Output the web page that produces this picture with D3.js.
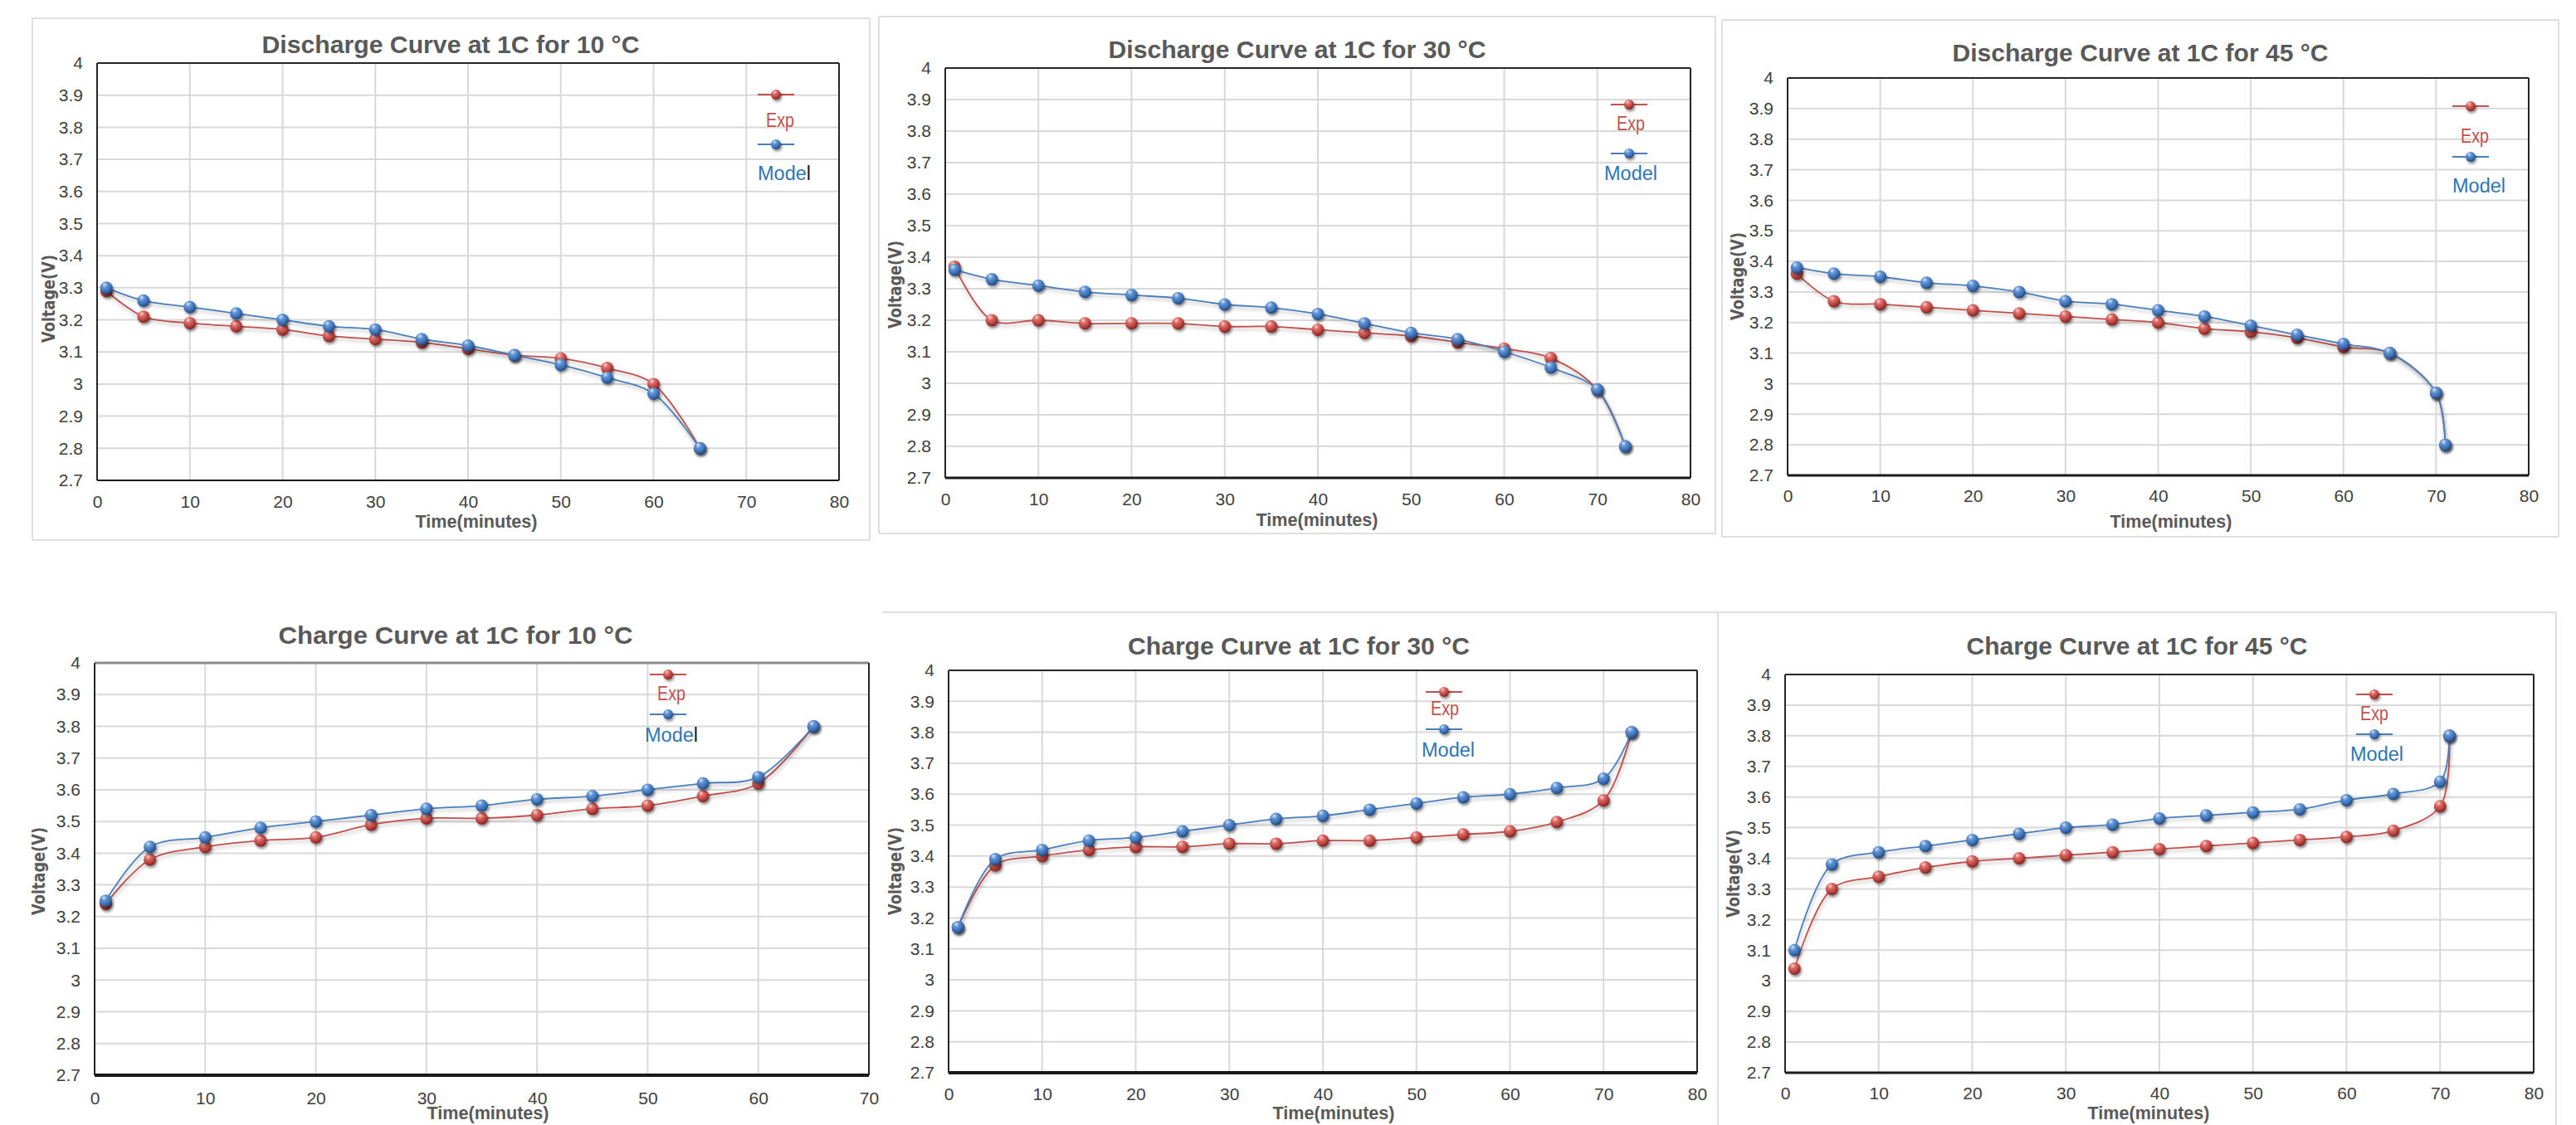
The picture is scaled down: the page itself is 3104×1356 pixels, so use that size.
<!DOCTYPE html>
<html>
<head>
<meta charset="utf-8">
<script src="https://cdn.jsdelivr.net/npm/d3@7"></script>
<style>
  body { margin: 0; background: #fff; }
  svg { display: block; }
</style>
</head>
<body>
<svg id="chart" width="3104" height="1356"></svg>
<script>
// ---- data ----
const Y_TICKS = [2.7, 2.8, 2.9, 3, 3.1, 3.2, 3.3, 3.4, 3.5, 3.6, 3.7, 3.8, 3.9, 4];
const X_TICKS_80 = [0, 10, 20, 30, 40, 50, 60, 70, 80];
const X_TICKS_70 = [0, 10, 20, 30, 40, 50, 60, 70];

const titles = [
  "Discharge Curve at 1C for 10 °C",
  "Discharge Curve at 1C for 30 °C",
  "Discharge Curve at 1C for 45 °C",
  "Charge Curve at 1C for 10 °C",
  "Charge Curve at 1C for 30 °C",
  "Charge Curve at 1C for 45 °C"
];

const tDis10 = [1, 5, 10, 15, 20, 25, 30, 35, 40, 45, 50, 55, 60, 65];
const expDis10 = [3.29, 3.21, 3.19, 3.18, 3.17, 3.15, 3.14, 3.13, 3.11, 3.09, 3.08, 3.05, 3.00, 2.80];
const modelDis10 = [3.30, 3.26, 3.24, 3.22, 3.20, 3.18, 3.17, 3.14, 3.12, 3.09, 3.06, 3.02, 2.97, 2.80];

const tDis30 = [1, 5, 10, 15, 20, 25, 30, 35, 40, 45, 50, 55, 60, 65, 70, 73];
const expDis30 = [3.37, 3.20, 3.20, 3.19, 3.19, 3.19, 3.18, 3.18, 3.17, 3.16, 3.15, 3.13, 3.11, 3.08, 2.98, 2.80];
const modelDis30 = [3.36, 3.33, 3.31, 3.29, 3.28, 3.27, 3.25, 3.24, 3.22, 3.19, 3.16, 3.14, 3.10, 3.05, 2.98, 2.80];

const tDis45 = [1, 5, 10, 15, 20, 25, 30, 35, 40, 45, 50, 55, 60, 65, 70, 71];
const expDis45 = [3.36, 3.27, 3.26, 3.25, 3.24, 3.23, 3.22, 3.21, 3.20, 3.18, 3.17, 3.15, 3.12, 3.10, 2.97, 2.80];
const modelDis45 = [3.38, 3.36, 3.35, 3.33, 3.32, 3.30, 3.27, 3.26, 3.24, 3.22, 3.19, 3.16, 3.13, 3.10, 2.97, 2.80];

const tCh10 = [1, 5, 10, 15, 20, 25, 30, 35, 40, 45, 50, 55, 60, 65];
const expCh10 = [3.24, 3.38, 3.42, 3.44, 3.45, 3.49, 3.51, 3.51, 3.52, 3.54, 3.55, 3.58, 3.62, 3.80];
const modelCh10 = [3.25, 3.42, 3.45, 3.48, 3.50, 3.52, 3.54, 3.55, 3.57, 3.58, 3.60, 3.62, 3.64, 3.80];

const tCh30 = [1, 5, 10, 15, 20, 25, 30, 35, 40, 45, 50, 55, 60, 65, 70, 73];
const expCh30 = [3.17, 3.37, 3.40, 3.42, 3.43, 3.43, 3.44, 3.44, 3.45, 3.45, 3.46, 3.47, 3.48, 3.51, 3.58, 3.80];
const modelCh30 = [3.17, 3.39, 3.42, 3.45, 3.46, 3.48, 3.50, 3.52, 3.53, 3.55, 3.57, 3.59, 3.60, 3.62, 3.65, 3.80];

const tCh45 = [1, 5, 10, 15, 20, 25, 30, 35, 40, 45, 50, 55, 60, 65, 70, 71];
const expCh45 = [3.04, 3.30, 3.34, 3.37, 3.39, 3.40, 3.41, 3.42, 3.43, 3.44, 3.45, 3.46, 3.47, 3.49, 3.57, 3.80];
const modelCh45 = [3.10, 3.38, 3.42, 3.44, 3.46, 3.48, 3.50, 3.51, 3.53, 3.54, 3.55, 3.56, 3.59, 3.61, 3.65, 3.80];

// ---- layout of the six panels (pixel positions) ----
const panels = [
  { t: tDis10, exp: expDis10, model: modelDis10, xTicks: X_TICKS_80,
    box: { l: 39, t: 22, r: 1048, b: 651, sides: "ltrb" }, plot: { l: 117, t: 76, r: 1011, b: 579 },
    title: { x: 543, y: 64, w: 455 }, xLab: 605, xTitle: { x: 574, y: 628 }, yTitle: { x: 58, y: 360 },
    leg: { x: 935, y1: 114, y2: 174, ex: 940, ey: 145, mx: 945, my: 209, cursorL: true },
    frame: { top: 2, topC: "#262626", bottom: 2 } },
  { t: tDis30, exp: expDis30, model: modelDis30, xTicks: X_TICKS_80,
    box: { l: 1059, t: 20, r: 2067, b: 643, sides: "ltrb" }, plot: { l: 1139, t: 82, r: 2037, b: 576 },
    title: { x: 1563, y: 70, w: 455 }, xLab: 602, xTitle: { x: 1587, y: 626 }, yTitle: { x: 1078, y: 343 },
    leg: { x: 1963, y1: 126, y2: 185, ex: 1965, ey: 149, mx: 1965, my: 209 },
    frame: { top: 2, topC: "#262626", bottom: 3 } },
  { t: tDis45, exp: expDis45, model: modelDis45, xTicks: X_TICKS_80,
    box: { l: 2075, t: 24, r: 3083, b: 647, sides: "ltrb" }, plot: { l: 2154, t: 94, r: 3047, b: 573 },
    title: { x: 2579, y: 74, w: 453 }, xLab: 598, xTitle: { x: 2616, y: 628 }, yTitle: { x: 2093, y: 333 },
    leg: { x: 2977, y1: 128, y2: 189, ex: 2982, ey: 164, mx: 2987, my: 224 },
    frame: { top: 2, topC: "#262626", bottom: 3 } },
  { t: tCh10, exp: expCh10, model: modelCh10, xTicks: X_TICKS_70,
    box: null, plot: { l: 114, t: 799, r: 1047, b: 1296 },
    title: { x: 549, y: 776, w: 427 }, xLab: 1324, xTitle: { x: 588, y: 1341 }, yTitle: { x: 46, y: 1050 },
    leg: { x: 805, y1: 813, y2: 861, ex: 809, ey: 836, mx: 809, my: 886, cursorL: true },
    frame: { top: 3, topC: "#8c8c8c", bottom: 4 } },
  { t: tCh30, exp: expCh30, model: modelCh30, xTicks: X_TICKS_80,
    box: { l: 1063, t: 738, r: 2070, b: 1360, sides: "tr" }, plot: { l: 1143, t: 808, r: 2045, b: 1293 },
    title: { x: 1565, y: 789, w: 412 }, xLab: 1319, xTitle: { x: 1607, y: 1341 }, yTitle: { x: 1078, y: 1050 },
    leg: { x: 1740, y1: 834, y2: 879, ex: 1741, ey: 854, mx: 1745, my: 904 },
    frame: { top: 2, topC: "#262626", bottom: 4 } },
  { t: tCh45, exp: expCh45, model: modelCh45, xTicks: X_TICKS_80,
    box: { l: 2070, t: 738, r: 3080, b: 1360, sides: "ltr" }, plot: { l: 2151, t: 813, r: 3053, b: 1293 },
    title: { x: 2575, y: 789, w: 411 }, xLab: 1318, xTitle: { x: 2589, y: 1341 }, yTitle: { x: 2088, y: 1053 },
    leg: { x: 2861, y1: 837, y2: 885, ex: 2861, ey: 860, mx: 2864, my: 909 },
    frame: { top: 2, topC: "#262626", bottom: 3 } }
];

const RED = "#c0504d";
const BLUE = "#4a7ebb";
const FONT = "'Liberation Sans Narrow', 'Liberation Sans', Arial, sans-serif";

const svg = d3.select("#chart");
const defs = svg.append("defs");

// glossy ball markers
function ballGradient(id, stops) {
  const g = defs.append("radialGradient").attr("id", id)
    .attr("cx", "38%").attr("cy", "30%").attr("r", "72%").attr("fx", "35%").attr("fy", "25%");
  stops.forEach(([o, c]) => g.append("stop").attr("offset", o).attr("stop-color", c));
}
ballGradient("ballRed", [["0%", "#fbd6d4"], ["30%", "#de6e69"], ["70%", "#b8403c"], ["100%", "#7a2220"]]);
ballGradient("ballBlue", [["0%", "#d6e6f8"], ["30%", "#6296d6"], ["70%", "#3b6fb3"], ["100%", "#1f4479"]]);

defs.append("filter").attr("id", "ballShadow").attr("x", "-50%").attr("y", "-50%").attr("width", "200%").attr("height", "200%")
  .append("feDropShadow").attr("dx", 1.5).attr("dy", 2.5).attr("stdDeviation", 1.8)
  .attr("flood-color", "#000").attr("flood-opacity", 0.45);
defs.append("filter").attr("id", "lineShadow").attr("x", "-10%").attr("y", "-10%").attr("width", "120%").attr("height", "130%")
  .append("feDropShadow").attr("dx", 1).attr("dy", 3).attr("stdDeviation", 2)
  .attr("flood-color", "#000").attr("flood-opacity", 0.28);

const fmt = (d) => String(+d.toFixed(1));

panels.forEach((p, i) => {
  const g = svg.append("g").attr("class", "panel");
  const x = d3.scaleLinear().domain([0, d3.max(p.xTicks)]).range([p.plot.l, p.plot.r]);
  const y = d3.scaleLinear().domain([2.7, 4]).range([p.plot.b, p.plot.t]);

  // outer chart box
  if (p.box) {
    const b = p.box;
    const segs = [];
    if (b.sides.includes("l")) segs.push([b.l, b.t, b.l, b.b]);
    if (b.sides.includes("t")) segs.push([b.l, b.t, b.r, b.t]);
    if (b.sides.includes("r")) segs.push([b.r, b.t, b.r, b.b]);
    if (b.sides.includes("b")) segs.push([b.l, b.b, b.r, b.b]);
    g.selectAll(".box").data(segs).join("line")
      .attr("x1", (d) => d[0]).attr("y1", (d) => d[1]).attr("x2", (d) => d[2]).attr("y2", (d) => d[3])
      .attr("stroke", "#dedede").attr("stroke-width", 2);
  }

  // gridlines
  g.selectAll(".hgrid").data(Y_TICKS.slice(1, -1)).join("line")
    .attr("x1", p.plot.l).attr("x2", p.plot.r)
    .attr("y1", (d) => y(d)).attr("y2", (d) => y(d))
    .attr("stroke", "#d9d9d9").attr("stroke-width", 2);
  g.selectAll(".vgrid").data(p.xTicks.slice(1, -1)).join("line")
    .attr("y1", p.plot.t).attr("y2", p.plot.b)
    .attr("x1", (d) => x(d)).attr("x2", (d) => x(d))
    .attr("stroke", "#d9d9d9").attr("stroke-width", 2);

  // plot frame
  g.append("line").attr("x1", p.plot.l).attr("x2", p.plot.r).attr("y1", p.plot.t).attr("y2", p.plot.t)
    .attr("stroke", p.frame.topC).attr("stroke-width", p.frame.top);
  g.append("line").attr("x1", p.plot.l).attr("x2", p.plot.l).attr("y1", p.plot.t).attr("y2", p.plot.b)
    .attr("stroke", "#262626").attr("stroke-width", 2);
  g.append("line").attr("x1", p.plot.r).attr("x2", p.plot.r).attr("y1", p.plot.t).attr("y2", p.plot.b)
    .attr("stroke", "#262626").attr("stroke-width", 2);
  g.append("line").attr("x1", p.plot.l).attr("x2", p.plot.r).attr("y1", p.plot.b).attr("y2", p.plot.b)
    .attr("stroke", "#1a1a1a").attr("stroke-width", p.frame.bottom);

  // axes (labels only)
  const yAxis = g.append("g").attr("transform", `translate(${p.plot.l},0)`)
    .call(d3.axisLeft(y).tickValues(Y_TICKS).tickFormat(fmt).tickSize(0).tickPadding(17));
  const xAxis = g.append("g").attr("transform", `translate(0,${p.plot.b})`)
    .call(d3.axisBottom(x).tickValues(p.xTicks).tickFormat(d3.format("d")).tickSize(0).tickPadding(p.xLab - p.plot.b - 8));
  [yAxis, xAxis].forEach((a) => {
    a.select(".domain").remove();
    a.selectAll("text").attr("fill", "#404040").style("font-family", FONT).style("font-size", "21px");
  });

  // titles
  g.append("text").attr("x", p.title.x).attr("y", p.title.y).attr("text-anchor", "middle")
    .attr("textLength", p.title.w).attr("lengthAdjust", "spacingAndGlyphs")
    .style("font-family", FONT).style("font-size", "30px").style("font-weight", "bold")
    .attr("fill", "#595959").text(titles[i]);
  g.append("text").attr("x", p.xTitle.x).attr("y", p.xTitle.y).attr("dy", "0.35em").attr("text-anchor", "middle")
    .attr("textLength", 147).attr("lengthAdjust", "spacingAndGlyphs")
    .style("font-family", FONT).style("font-size", "22px").style("font-weight", "bold")
    .attr("fill", "#595959").text("Time(minutes)");
  g.append("text").attr("transform", `translate(${p.yTitle.x},${p.yTitle.y}) rotate(-90)`)
    .attr("dy", "0.35em").attr("text-anchor", "middle")
    .attr("textLength", 106).attr("lengthAdjust", "spacingAndGlyphs")
    .style("font-family", "'DejaVu Sans', Verdana, sans-serif").style("font-size", "22px").style("font-weight", "bold")
    .attr("fill", "#595959").text("Voltage(V)");

  // series: Exp first, then Model on top
  const series = [
    { vals: p.exp, color: RED, grad: "url(#ballRed)" },
    { vals: p.model, color: BLUE, grad: "url(#ballBlue)" }
  ];
  const line = d3.line().x((d) => x(d[0])).y((d) => y(d[1])).curve(d3.curveCatmullRom.alpha(0.5));
  series.forEach((s) => {
    const pts = p.t.map((t, k) => [t, s.vals[k]]);
    g.append("path").datum(pts).attr("d", line)
      .attr("fill", "none").attr("stroke", s.color).attr("stroke-width", 1.8)
      .attr("filter", "url(#lineShadow)");
    g.selectAll(null).data(pts).join("circle")
      .attr("cx", (d) => x(d[0])).attr("cy", (d) => y(d[1])).attr("r", 7.5)
      .attr("fill", s.grad).attr("filter", "url(#ballShadow)");
  });

  // legend
  const L = p.leg;
  [[L.y1, RED, "url(#ballRed)"], [L.y2, BLUE, "url(#ballBlue)"]].forEach(([ly, c, grad]) => {
    g.append("line").attr("x1", L.x - 22).attr("x2", L.x + 22).attr("y1", ly).attr("y2", ly)
      .attr("stroke", c).attr("stroke-width", 1.8);
    g.append("circle").attr("cx", L.x).attr("cy", ly).attr("r", 6).attr("fill", grad)
      .attr("filter", "url(#ballShadow)");
  });
  g.append("text").attr("x", L.ex).attr("y", L.ey).attr("dy", "0.35em").attr("text-anchor", "middle")
    .attr("textLength", 34).attr("lengthAdjust", "spacingAndGlyphs")
    .style("font-family", FONT).style("font-size", "23px").attr("fill", RED).text("Exp");
  const m = g.append("text").attr("x", L.mx).attr("y", L.my).attr("dy", "0.35em").attr("text-anchor", "middle")
    .attr("textLength", 64).attr("lengthAdjust", "spacingAndGlyphs")
    .style("font-family", FONT).style("font-size", "23px").attr("fill", "#2e75b6");
  if (L.cursorL) {
    m.append("tspan").text("Mode");
    m.append("tspan").attr("fill", "#1a1a1a").text("l");
  } else {
    m.text("Model");
  }
});
</script>
</body>
</html>
